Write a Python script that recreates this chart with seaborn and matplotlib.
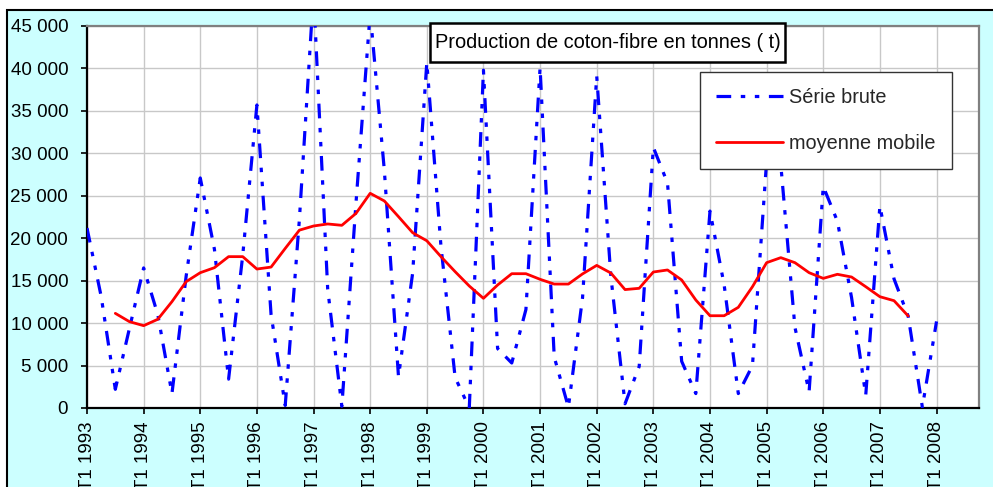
import numpy as np
import pandas as pd
import matplotlib
matplotlib.use("Agg")
import matplotlib.pyplot as plt
from matplotlib.patches import Rectangle
from matplotlib.ticker import FuncFormatter, MultipleLocator
import seaborn as sns

# ---------------- data ----------------
years = list(range(1993, 2009))
quarters = [f"T{q} {y}" for y in years for q in (1, 2, 3, 4)]  # 64 categories

serie_brute = [21200, 13150, 2200, 9400, 16500, 11000, 1700, 15500,
               27100, 18700, 3400, 18000, 35700, 11000, 300, 22200,
               49000, 14000, 200, 24200, 46600, 28000, 3700, 15900,
               40700, 19050, 3600, 0, 39800, 7000, 5300, 11600,
               40100, 6000, 100, 13000, 39100, 15500, 500, 4900,
               30700, 26500, 5500, 1700, 23200, 14500, 1700, 5000,
               29100, 28700, 9500, 1900, 26100, 22000, 13000, 1500,
               23800, 15200, 10800, 100, 10200]

moyenne_mobile = [np.nan, np.nan, 11150, 10170, 9700, 10450, 12530, 14880,
                  15940, 16530, 17830, 17830, 16370, 16600, 18800, 20950,
                  21440, 21680, 21520, 22930, 25290, 24390, 22540, 20650,
                  19700, 17830, 16060, 14370, 12920, 14490, 15820, 15820,
                  15160, 14600, 14600, 15800, 16800, 15900, 13950, 14100,
                  16020, 16260, 15080, 12720, 10870, 10870, 11860, 14290,
                  17120, 17710, 17120, 15940, 15270, 15750, 15430, 14290,
                  13110, 12640, 10840, np.nan, np.nan]

title = "Production de coton-fibre en tonnes ( t)"
label_brute = "Série brute"
label_mm = "moyenne mobile"

df = pd.DataFrame({
    "pos": np.arange(len(serie_brute)),
    "quarter": quarters[:len(serie_brute)],
    "brute": serie_brute,
    "mm": moyenne_mobile,
})

# ---------------- style ----------------
sns.set_style("white")
plt.rcParams["font.family"] = ["Liberation Sans", "DejaVu Sans"]

W, H = 993, 487
fig = plt.figure(figsize=(W / 100, H / 100), dpi=100, facecolor="white")

# chart area background (cyan with black border, cropped at right/bottom)
bg = Rectangle((7 / W, -0.2), 1.3, (H - 10) / H + 0.2, transform=fig.transFigure,
               facecolor="#CCFFFF", edgecolor="black", linewidth=1.5, zorder=-10)
fig.add_artist(bg)

ax = fig.add_axes([87 / W, (H - 408) / H, (979 - 87) / W, (408 - 26) / H])
ax.set_facecolor("white")

sns.lineplot(data=df, x="pos", y="brute", ax=ax, color="#0000FF",
             linewidth=2.3, label=label_brute, zorder=3)
sns.lineplot(data=df, x="pos", y="mm", ax=ax, color="#FF0000",
             linewidth=2.0, label=label_mm, zorder=4)
ax.lines[0].set_linestyle((0, (4.6, 3.0, 1.4, 3.0, 1.4, 3.0)))

ax.set_xlim(0, len(quarters) - 1)
ax.set_ylim(0, 45000)
ax.yaxis.set_major_locator(MultipleLocator(5000))
ax.yaxis.set_major_formatter(FuncFormatter(lambda v, p: f"{int(v):,}".replace(",", " ")))

tick_pos = list(range(0, len(serie_brute), 4))
ax.set_xticks(tick_pos)
ax.set_xticklabels([quarters[i] for i in tick_pos], rotation=90)

ax.set_xlabel("")
ax.set_ylabel("")

ax.grid(True, color="#C8C8C8", linewidth=1.0)
ax.set_axisbelow(True)

for side in ("left", "bottom"):
    ax.spines[side].set_color("black")
    ax.spines[side].set_linewidth(1.6)
for side in ("top", "right"):
    ax.spines[side].set_color("#808080")
    ax.spines[side].set_linewidth(1.6)

ax.tick_params(axis="y", which="major", left=True, direction="out", length=4.5,
               width=1.2, color="black", labelsize=13.5, pad=9, labelcolor="black")
ax.tick_params(axis="x", which="major", bottom=True, direction="out", length=4.5,
               width=1.2, color="black", labelsize=13.5, pad=5, labelcolor="black")

leg = ax.legend(loc="upper left", bbox_to_anchor=(700 / W, 1 - 72 / H),
                bbox_transform=fig.transFigure, fontsize=14.3, frameon=True,
                fancybox=False, shadow=False, borderpad=0.8, labelspacing=1.35,
                handlelength=3.4, handletextpad=0.3, borderaxespad=0)
leg.get_frame().set_edgecolor("#333333")
leg.get_frame().set_linewidth(1.0)
leg.get_frame().set_facecolor("white")
leg.get_frame().set_alpha(1)

# title box
tb = Rectangle((430 / W, (H - 62) / H), (785 - 430) / W, (62 - 23) / H,
               transform=fig.transFigure, facecolor="white", edgecolor="black",
               linewidth=1.8, zorder=5)
fig.add_artist(tb)
fig.text(607.5 / W, 1 - 42.5 / H, title, ha="center", va="center",
         fontsize=14.4, color="black", zorder=6)

fig.savefig("out.png", dpi=100, facecolor=fig.get_facecolor())
